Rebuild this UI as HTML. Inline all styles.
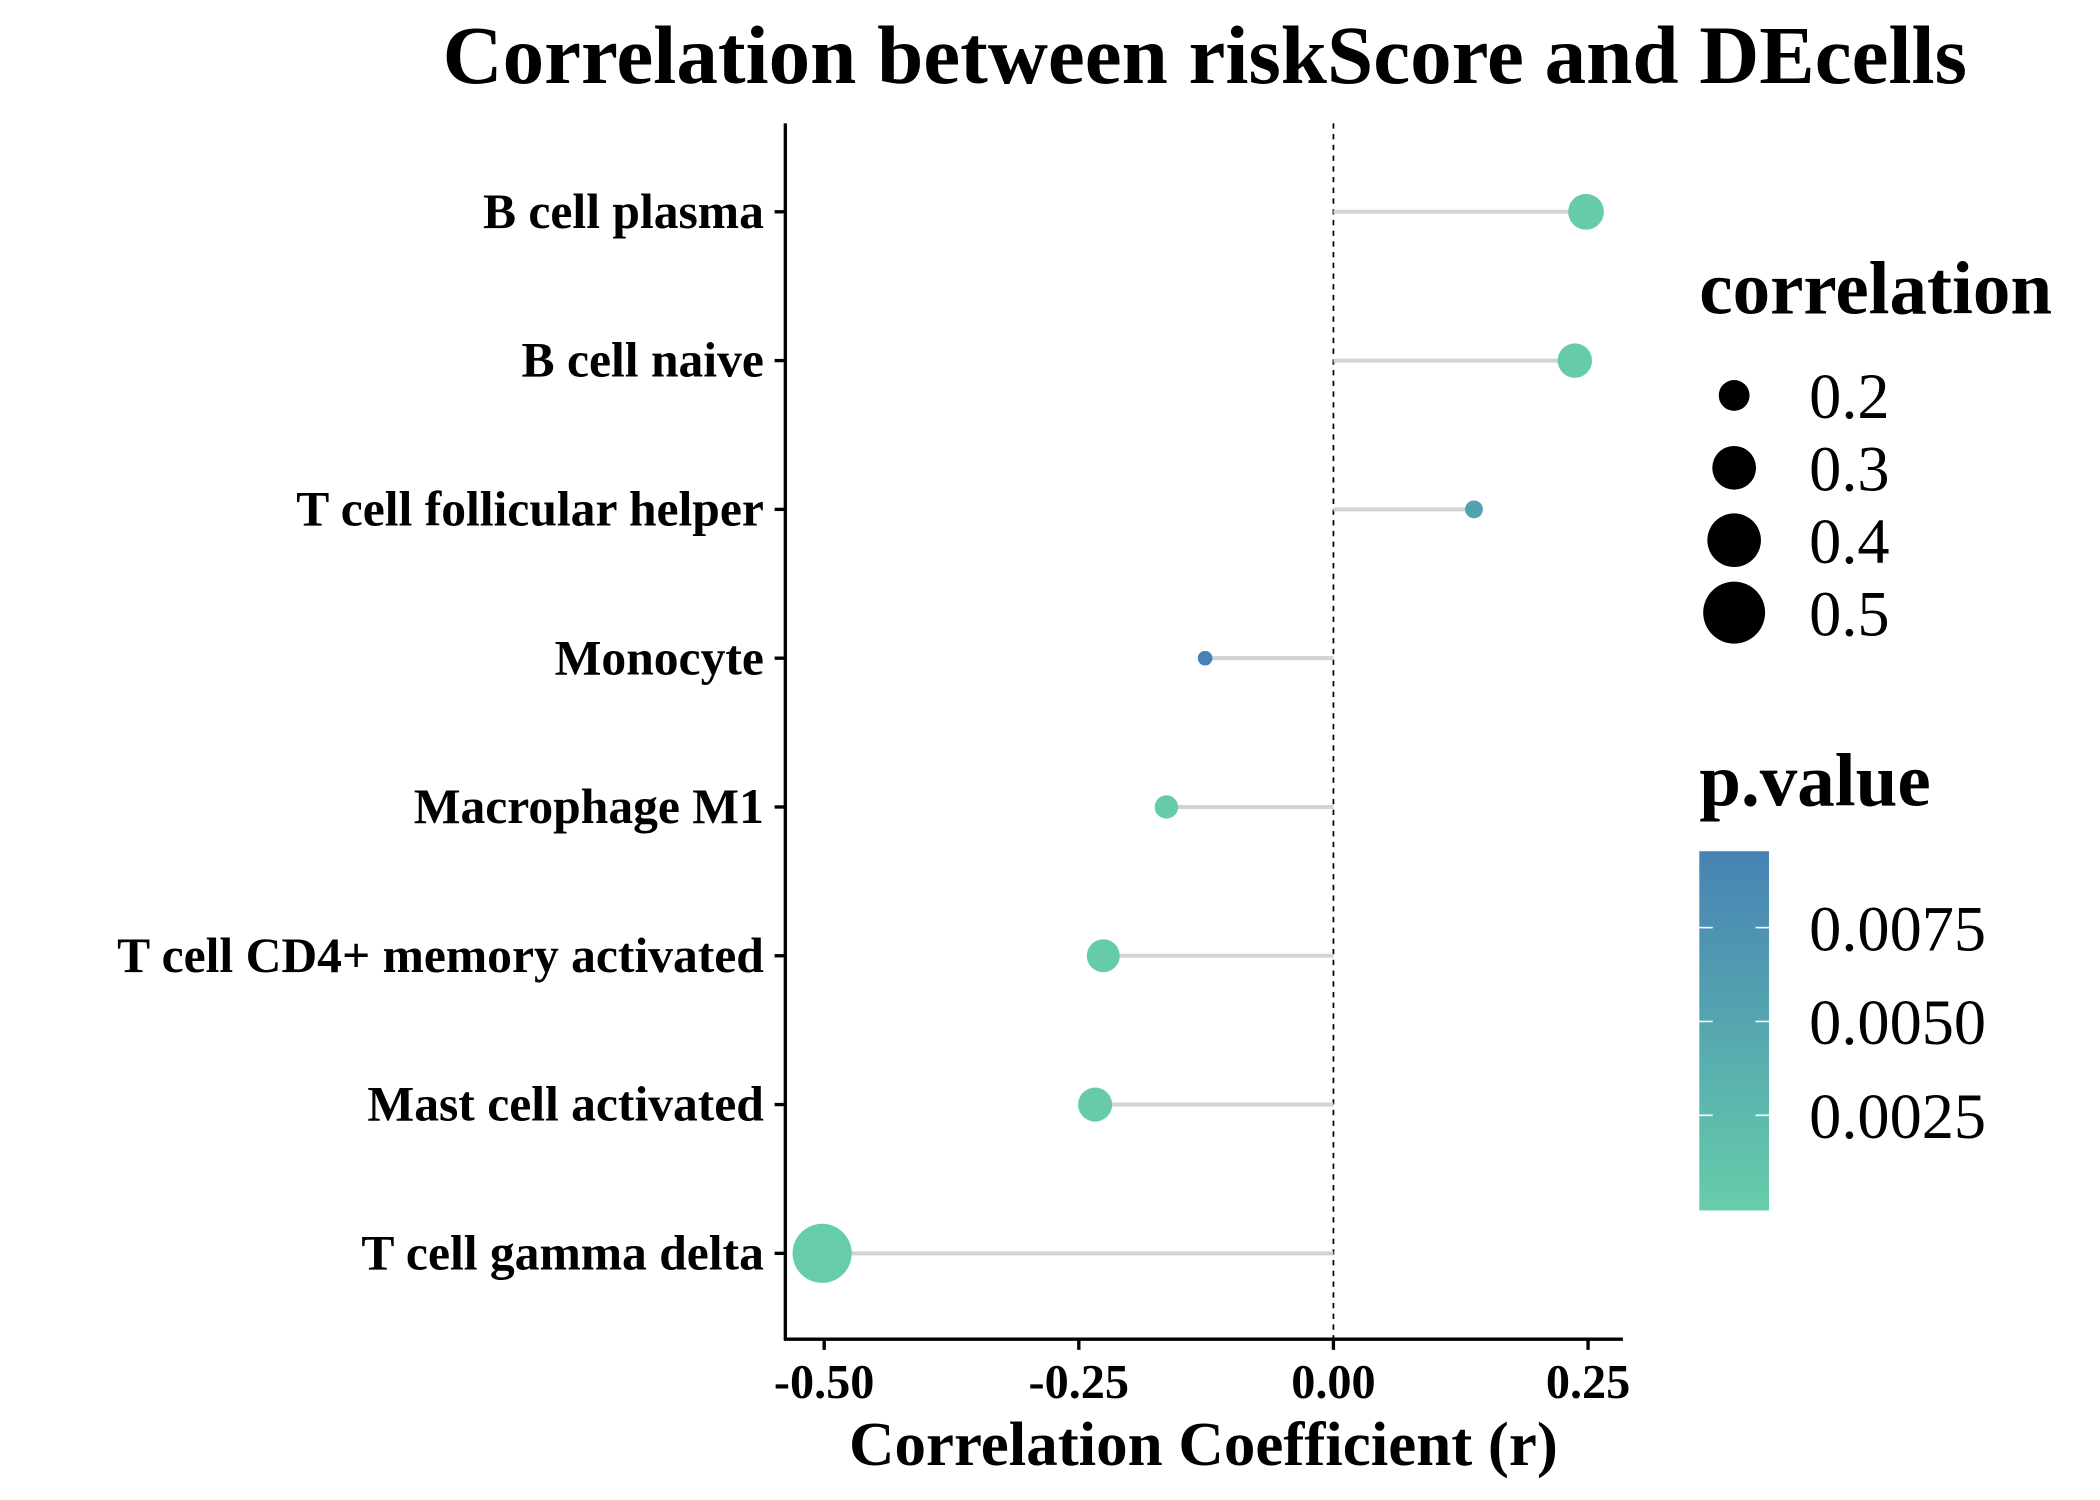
<!DOCTYPE html>
<html><head><meta charset="utf-8"><style>
html,body{margin:0;padding:0;background:#fff;}
svg{display:block;}
text{font-family:"Liberation Serif",serif;}
</style></head><body>
<svg id="chart" width="2100" height="1500" viewBox="0 0 1567 1119" preserveAspectRatio="none" xmlns="http://www.w3.org/2000/svg">
<defs>
<linearGradient id="pgrad" x1="0" y1="1" x2="0" y2="0">
<stop offset="0" stop-color="#66CDAA"/><stop offset="1" stop-color="#4682B4"/>
</linearGradient>
</defs>
<text x="899" y="62" text-anchor="middle" font-size="62" font-weight="bold">Correlation between riskScore and DEcells</text>
<g id="plot"></g>
<line x1="586" y1="92" x2="586" y2="1000" stroke="#000" stroke-width="2.5"/>
<line x1="585" y1="999" x2="1211" y2="999" stroke="#000" stroke-width="2.5"/>
<text x="898" y="1093" text-anchor="middle" font-size="47" font-weight="bold">Correlation Coefficient (r)</text>
<g>
<text x="1268" y="234" font-size="56" font-weight="bold">correlation</text>
<g id="sizeleg"></g>
</g>
<g>
<text x="1268" y="601" font-size="56" font-weight="bold">p.value</text>
<rect x="1268" y="635" width="52" height="268" fill="url(#pgrad)"/>
<g id="colorleg"></g>
</g>
</svg>
<script>
const categories = ["B cell plasma","B cell naive","T cell follicular helper","Monocyte","Macrophage M1","T cell CD4+ memory activated","Mast cell activated","T cell gamma delta"];
const rValues = [0.248, 0.237, 0.138, -0.126, -0.164, -0.226, -0.234, -0.502];
const pValues = [0.0002, 0.0002, 0.0055, 0.0095, 0.0002, 0.0002, 0.0002, 0.0001];
const xTicks = [-0.5, -0.25, 0, 0.25];
const xTickLabels = ["-0.50","-0.25","0.00","0.25"];
const sizeBreaks = [0.2, 0.3, 0.4, 0.5];
const pBreaks = [0.0025, 0.005, 0.0075];
const pBreakLabels = ["0.0025","0.0050","0.0075"];

const NS = "http://www.w3.org/2000/svg";
function xs(v){ return 995 + v * 760; }
function ys(i){ return 158 + i * 111; }
function rs(v){ return Math.sqrt(Math.max(16, -123 + 1214 * Math.abs(v))); }
const pMin = 0, pMax = 0.0095;
function pColor(p){
  const t = Math.max(0, Math.min(1, (p - pMin) / (pMax - pMin)));
  const a=[0x66,0xCD,0xAA], b=[0x46,0x82,0xB4];
  return "rgb(" + a.map((c,k)=>Math.round(c+(b[k]-c)*t)).join(",") + ")";
}
function py(p){ return 902 - (p - pMin) / 0.0025 * 70; }
function mk(tag, attrs, parent){
  const el = document.createElementNS(NS, tag);
  for (const k in attrs) el.setAttribute(k, attrs[k]);
  parent.appendChild(el);
  return el;
}
const plot = document.getElementById("plot");
const svg = document.getElementById("chart");

let zl = mk("line", {x1: xs(0), y1: 92, x2: xs(0), y2: 999, stroke: "#000", "stroke-width": 1.3, "stroke-dasharray": "4 4"}, plot);



categories.forEach((c, i) => {
  const y = ys(i);
  const seg = mk("line", {x1: xs(0), y1: y, x2: xs(rValues[i]), y2: y, stroke: "#d3d3d3", "stroke-width": 3}, plot);
  
  
  const pt = mk("circle", {cx: xs(rValues[i]), cy: y, r: rs(rValues[i]), fill: pColor(pValues[i])}, plot);
  
  
  const tk = mk("line", {x1: 578, y1: y, x2: 586, y2: y, stroke: "#000", "stroke-width": 2.5}, svg);
  
  
  const lb = mk("text", {x: 570, y: y + 12, "text-anchor": "end", "font-size": 37, "font-weight": "bold"}, svg);
  lb.textContent = c;
  
  
});

xTicks.forEach((v, i) => {
  const t = mk("line", {x1: xs(v), y1: 999, x2: xs(v), y2: 1007, stroke: "#000", "stroke-width": 2.5}, svg);
  
  
  const l = mk("text", {x: xs(v), y: 1043, "text-anchor": "middle", "font-size": 36, "font-weight": "bold"}, svg);
  l.textContent = xTickLabels[i];
  
  
});

const sl = document.getElementById("sizeleg");
sizeBreaks.forEach((v, i) => {
  const y = 295 + i * 54;
  const c = mk("circle", {cx: 1294, cy: y, r: rs(v) * 1.05, fill: "#000"}, sl);
  
  
  const t = mk("text", {x: 1350, y: y + 17, "font-size": 48}, sl);
  t.textContent = String(v);
  
  
});

const cl = document.getElementById("colorleg");
pBreaks.forEach((p, i) => {
  const y = py(p);
  const a = mk("line", {x1: 1268, y1: y, x2: 1278, y2: y, stroke: "#fff", "stroke-width": 1.2}, cl);
  
  
  const b = mk("line", {x1: 1310, y1: y, x2: 1320, y2: y, stroke: "#fff", "stroke-width": 1.2}, cl);
  
  
  const t = mk("text", {x: 1350, y: y + 17, "font-size": 48}, cl);
  t.textContent = pBreakLabels[i];
  
  
});
</script>
</body></html>
